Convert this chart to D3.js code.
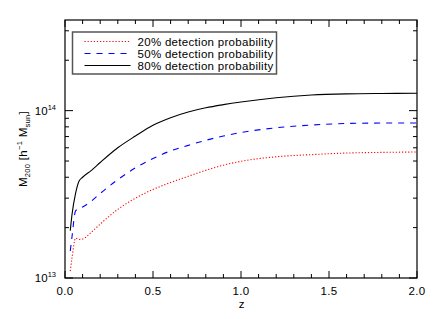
<!DOCTYPE html>
<html>
<head>
<meta charset="utf-8">
<script src="https://cdn.jsdelivr.net/npm/d3@7"></script>
<style>
  html, body { margin: 0; padding: 0; background: #fff; }
  text { font-family: "Liberation Sans", Arial, sans-serif; fill: #000; }
</style>
</head>
<body>
<div id="chart"></div>
<script>
// redshift grid and detection-limit masses (units of 1e13 h^-1 Msun)
const zGrid = [0.03, 0.04, 0.06, 0.08, 0.1, 0.15, 0.2, 0.3, 0.4, 0.5, 0.6, 0.7, 0.8, 0.9, 1.0, 1.2, 1.4, 1.6, 1.8, 2.0];
const mass20 = [1.1, 1.32, 1.73, 1.70, 1.71, 1.88, 2.1, 2.57, 3.0, 3.38, 3.72, 4.05, 4.4, 4.72, 4.98, 5.3, 5.46, 5.58, 5.63, 5.66];
const mass50 = [1.45, 1.77, 2.52, 2.6, 2.66, 2.88, 3.2, 3.87, 4.55, 5.17, 5.75, 6.2, 6.65, 7.05, 7.4, 7.9, 8.2, 8.38, 8.43, 8.44];
const mass80 = [1.92, 2.4, 3.2, 3.8, 4.0, 4.4, 4.9, 6.0, 7.05, 8.18, 9.08, 9.82, 10.4, 10.86, 11.27, 11.95, 12.4, 12.6, 12.67, 12.7];
const seriesNames = ['20% detection probability', '50% detection probability', '80% detection probability'];
const xMajorTicks = [0, 0.5, 1.0, 1.5, 2.0];
const yMajorTicks = [1e13, 1e14];
const yMajorExp = ['13', '14'];

(function(){
  const width = 436, height = 319;
  const margin = {top:20, right:19, bottom:41, left:65};
  const innerW = width - margin.left - margin.right;
  const innerH = height - margin.top - margin.bottom;

  const svg = d3.select('#chart').append('svg')
    .attr('width', width)
    .attr('height', height);
  svg.append('rect').attr('width', width).attr('height', height).attr('fill', '#fff');
  const g = svg.append('g').attr('transform', `translate(${margin.left},${margin.top})`);

  const x = d3.scaleLinear().domain([0, 2]).range([0, innerW]);
  const y = d3.scaleLog().domain([1e13, 3.48e14]).range([innerH, 0]);

  const styles = [
    {color:'#ff0000', dash:'1.2,1.9'},
    {color:'#0000ff', dash:'6,6'},
    {color:'#000000', dash:null}
  ];
  const series = [mass20, mass50, mass80].map((m, i) => ({
    name: seriesNames[i],
    style: styles[i],
    values: zGrid.map((z, j) => ({z: z, m: m[j] * 1e13}))
  }));

  // ticks
  const xMinor = d3.range(0, 2.0001, 0.1).filter(v => Math.abs(v*2 - Math.round(v*2)) > 1e-6);
  const yMinor = [2,3,4,5,6,7,8,9].map(v => v*1e13).concat([2e14, 3e14]);

  function addTicks(vals, len, axis){
    vals.forEach(v => {
      if (axis === 'x') {
        g.append('line').attr('x1', x(v)).attr('x2', x(v)).attr('y1', innerH).attr('y2', innerH - len)
          .attr('stroke', '#000').attr('stroke-width', 1);
        g.append('line').attr('x1', x(v)).attr('x2', x(v)).attr('y1', 0).attr('y2', len)
          .attr('stroke', '#000').attr('stroke-width', 1);
      } else {
        g.append('line').attr('x1', 0).attr('x2', len).attr('y1', y(v)).attr('y2', y(v))
          .attr('stroke', '#000').attr('stroke-width', 1);
        g.append('line').attr('x1', innerW).attr('x2', innerW - len).attr('y1', y(v)).attr('y2', y(v))
          .attr('stroke', '#000').attr('stroke-width', 1);
      }
    });
  }
  addTicks(xMajorTicks, 7, 'x');
  addTicks(xMinor, 4, 'x');
  addTicks(yMajorTicks, 8, 'y');
  addTicks(yMinor, 4, 'y');

  // curves
  const line = d3.line()
    .x(d => x(d.z))
    .y(d => y(d.m))
    .curve(d3.curveMonotoneX);
  series.forEach(s => {
    g.append('path')
      .datum(s.values)
      .attr('fill', 'none')
      .attr('stroke', s.style.color)
      .attr('stroke-width', 1.1)
      .attr('stroke-dasharray', s.style.dash)
      .attr('d', line);
  });

  // frame
  g.append('rect')
    .attr('width', innerW).attr('height', innerH)
    .attr('fill', 'none').attr('stroke', '#000').attr('stroke-width', 1.2);

  // x tick labels
  xMajorTicks.forEach(v => {
    g.append('text')
      .attr('x', x(v)).attr('y', innerH + 17)
      .attr('text-anchor', 'middle')
      .attr('font-size', '11.5px')
      .attr('letter-spacing', '0.3px')
      .text(v.toFixed(1));
  });
  g.append('text')
    .attr('x', innerW/2 + 0.5).attr('y', innerH + 30)
    .attr('text-anchor', 'middle')
    .attr('font-size', '11.5px')
    .text('z');

  // y tick labels 10^n
  yMajorTicks.forEach((v, i) => {
    const t = g.append('text')
      .attr('x', -9).attr('y', y(v) + 4)
      .attr('text-anchor', 'end')
      .attr('font-size', '11.5px');
    t.append('tspan').text('10');
    t.append('tspan').attr('font-size', '7.5px').attr('dy', -5).text(yMajorExp[i]);
  });

  // y label
  const yl = g.append('text')
    .attr('transform', `translate(${-38},${innerH/2}) rotate(-90)`)
    .attr('text-anchor', 'middle')
    .attr('font-size', '11.5px')
    .attr('letter-spacing', '0.3px');
  yl.append('tspan').text('M');
  yl.append('tspan').attr('font-size', '7.5px').attr('dy', 3).text('200');
  yl.append('tspan').attr('dy', -3).text(' [h');
  yl.append('tspan').attr('font-size', '7.5px').attr('dy', -5).text('\u22121');
  yl.append('tspan').attr('dy', 5).text(' M');
  yl.append('tspan').attr('font-size', '7.5px').attr('dy', 3).text('sun');
  yl.append('tspan').attr('dy', -3).text(']');

  // legend
  const legend = svg.append('g').attr('transform', 'translate(72.5,32)');
  legend.append('rect')
    .attr('width', 204).attr('height', 42)
    .attr('fill', '#fff').attr('stroke', '#555').attr('stroke-width', 1.5);
  series.forEach((s, i) => {
    const ly = 9.5 + i * 12;
    legend.append('line')
      .attr('x1', 12).attr('x2', 58).attr('y1', ly).attr('y2', ly)
      .attr('stroke', s.style.color)
      .attr('stroke-width', 1.1)
      .attr('stroke-dasharray', s.style.dash);
    legend.append('text')
      .attr('x', 65).attr('y', ly + 4)
      .attr('font-size', '11.5px')
      .attr('letter-spacing', '0.3px')
      .text(s.name);
  });
})();
</script>
</body>
</html>
